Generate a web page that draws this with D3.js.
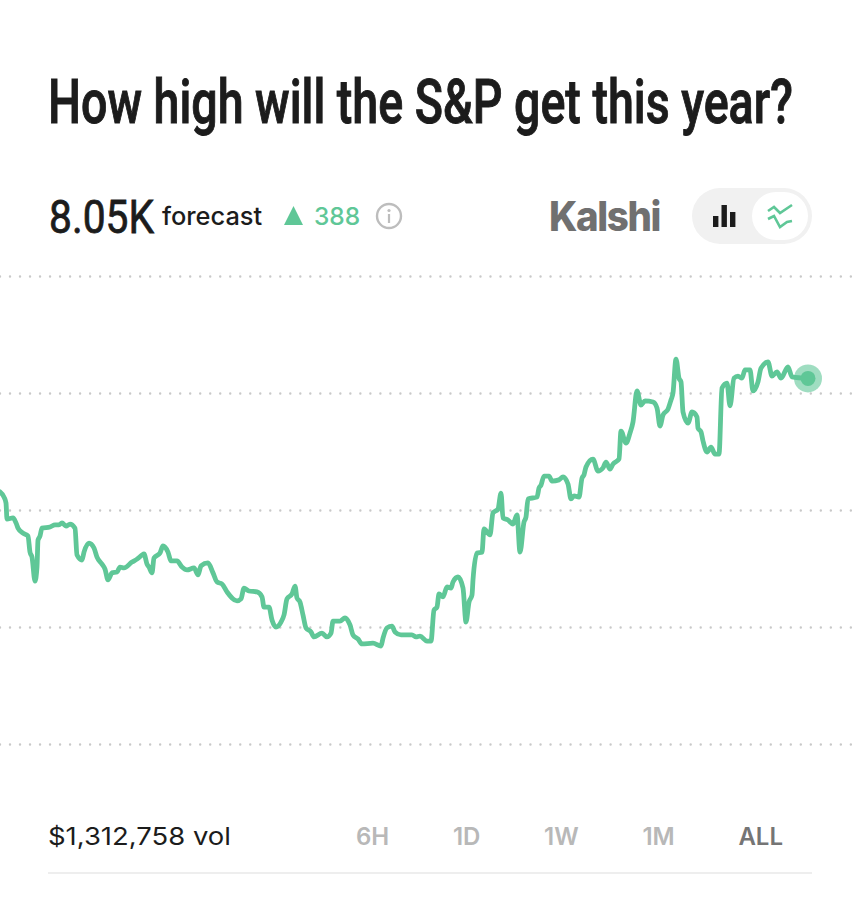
<!DOCTYPE html>
<html>
<head>
<meta charset="utf-8">
<title>How high will the S&amp;P get this year?</title>
<script src="https://cdn.jsdelivr.net/npm/d3@7/dist/d3.min.js"></script>
<style>
  html, body { margin: 0; padding: 0; background: #fff; }
  svg { display: block; }
  text { font-family: Inter, "Noto Sans", sans-serif; }
  .headline { font-family: Roboto, sans-serif; fill: #1c1c1c; }
</style>
</head>
<body>
<svg id="chart" width="860" height="900"></svg>
<script>
const titleText = "How high will the S&P get this year?";
const forecastValue = "8.05K";
const forecastLabel = "forecast";
const changeValue = "388";
const sourceName = "Kalshi";
const volumeText = "$1,312,758 vol";
const rangeLabels = ["6H", "1D", "1W", "1M", "ALL"];
const activeRange = "ALL";
const gridValues = [8400, 8000, 7600, 7200, 6800];

// Elapsed market time, in arbitrary sample units
const sampleTimes = [
  0,4,6,7,13,16,18,23,28,30,32,35,37,38,40,42,50,55,59,62,66,70,75,77,82,84,89,94,97,102,
  105,108,112,117,120,124,132,137,142,144,147,149,152,154,160,163,168,171,177,182,187,194,198,201,208,213,217,222,227,237,
  241,244,249,257,262,264,269,272,276,281,284,287,292,295,297,300,303,306,311,314,322,327,331,333,340,345,350,353,358,362,
  373,381,383,387,392,395,401,412,416,420,427,431,434,437,439,443,447,451,453,458,463,466,469,472,473,477,482,484,490,493,
  498,501,503,508,513,517,520,524,526,528,537,539,541,544,549,552,559,563,568,571,574,579,582,584,586,593,598,603,606,610,
  613,619,621,626,630,633,637,641,645,653,657,660,663,668,671,673,676,679,681,683,688,692,697,698,701,703,707,711,715,719,
  722,727,730,734,738,742,745,750,753,758,761,768,772,777,781,788,792,808
];

// Forecast level of the S&P high at each sample time
const forecastLevels = [
  7662,7644,7624,7569,7573,7556,7538,7521,7511,7456,7439,7357,7405,7497,7511,7538,7542,7549,7549,7556,7545,7552,7538,7446,7429,7456,7487,7470,7439,7415,
  7398,7361,7385,7388,7405,7402,7422,7432,7446,7450,7415,7405,7385,7436,7453,7477,7456,7426,7426,7405,7395,7402,7378,7409,7419,7385,7354,7347,7320,7289,
  7296,7333,7323,7320,7303,7268,7268,7224,7200,7217,7241,7296,7313,7340,7299,7285,7241,7197,7183,7166,7179,7166,7179,7220,7220,7231,7207,7173,7159,7142,
  7145,7135,7162,7197,7203,7183,7173,7173,7166,7169,7152,7152,7258,7268,7313,7303,7337,7333,7354,7371,7333,7217,7285,7309,7361,7453,7456,7535,7515,7590,
  7603,7658,7573,7566,7552,7583,7456,7559,7576,7638,7644,7675,7685,7716,7716,7699,7703,7713,7689,7638,7648,7644,7709,7720,7747,7774,7733,7744,7764,7740,
  7757,7774,7870,7829,7863,7901,8007,7959,7973,7969,7949,7887,7925,7945,7976,8000,8116,8051,8038,7935,7897,7935,7918,7880,7867,7836,7798,7815,7791,7791,
  8017,8034,7956,8051,8058,8051,8079,8079,8007,8038,8085,8106,8058,8072,8051,8089,8055,8050
];

const green = "#5fc797";
const svg = d3.select("#chart");

const x = d3.scaleLinear().domain([0, 808]).range([0, 808]);
const y = d3.scaleLinear().domain([6800, 8400]).range([744, 276]);

// Dotted horizontal guides
const grid = svg.append("g")
  .call(d3.axisRight(y).tickValues(gridValues).tickSize(852).tickFormat(""));
grid.select(".domain").remove();
grid.selectAll("line")
  .attr("stroke", "#c9c9c9")
  .attr("stroke-width", 2.4)
  .attr("stroke-linecap", "round")
  .attr("stroke-dasharray", "0.01 10");

// Forecast line
const points = sampleTimes.map((t, i) => [t, forecastLevels[i]]);
const line = d3.line().x(d => x(d[0])).y(d => y(d[1])).curve(d3.curveMonotoneX);
svg.append("path")
  .datum(points)
  .attr("d", line)
  .attr("fill", "none")
  .attr("stroke", green)
  .attr("stroke-width", 4.8)
  .attr("stroke-linejoin", "round")
  .attr("stroke-linecap", "round");

// Pulsing end marker
const last = points[points.length - 1];
svg.append("circle").attr("cx", x(last[0])).attr("cy", y(last[1])).attr("r", 14)
  .attr("fill", green).attr("fill-opacity", 0.6);
svg.append("circle").attr("cx", x(last[0])).attr("cy", y(last[1])).attr("r", 7.5)
  .attr("fill", green);

// Draws condensed display text by squeezing it horizontally to a set width
function condensed(str, left, baseline, size, weight, width, outline) {
  const t = svg.append("text").attr("class", "headline")
    .attr("font-size", size).style("font-weight", weight)
    .attr("stroke", "#1c1c1c").attr("stroke-width", outline)
    .text(str);
  const natural = t.node().getComputedTextLength();
  t.attr("transform", `translate(${left},${baseline}) scale(${width / natural},1)`);
  return t;
}

// Heading
condensed(titleText, 48, 123, 62, 500, 745, 1);

// Forecast summary row
condensed(forecastValue, 49, 233, 47, 400, 105, 0.8);
svg.append("text")
  .attr("x", 162).attr("y", 225)
  .attr("font-size", 25.4).attr("font-weight", 500).attr("fill", "#1c1c1c")
  .text(forecastLabel);
svg.append("path")
  .attr("d", d3.line()([[284, 225], [293.5, 206], [303, 225]]) + "Z")
  .attr("fill", green);
svg.append("text")
  .attr("x", 314).attr("y", 225)
  .attr("font-size", 24.5).attr("font-weight", 500).attr("fill", green)
  .text(changeValue);

// Info icon
const info = svg.append("g").attr("transform", "translate(389,216)");
info.append("circle").attr("r", 12).attr("fill", "none").attr("stroke", "#bdbdbd").attr("stroke-width", 2.4);
info.append("circle").attr("cy", -5.5).attr("r", 1.6).attr("fill", "#bdbdbd");
info.append("rect").attr("x", -1.1).attr("y", -2).attr("width", 2.2).attr("height", 9).attr("fill", "#bdbdbd");

// Source wordmark
const wordmark = svg.append("text")
  .attr("y", 231)
  .attr("font-size", 41).attr("font-weight", 800).attr("fill", "#707070")
  .attr("letter-spacing", -1.5)
  .text(sourceName);
wordmark.attr("transform", `translate(549,0) scale(${111 / wordmark.node().getComputedTextLength()},1)`);

// Chart type toggle
svg.append("rect").attr("x", 692).attr("y", 188).attr("width", 120).attr("height", 56).attr("rx", 28).attr("fill", "#f1f1f1");
svg.append("rect").attr("x", 752).attr("y", 192).attr("width", 56).attr("height", 48).attr("rx", 24).attr("fill", "#fff");
[[713, 216], [721.5, 205], [730, 212]].forEach(([bx, top]) => {
  svg.append("rect").attr("x", bx).attr("y", top)
    .attr("width", 5.4).attr("height", 227 - top).attr("fill", "#1c1c1c");
});
[[[768, 211], [774, 207], [780, 213], [792, 205]], [[768, 219], [774, 216], [780, 227], [787, 222], [792, 221]]].forEach(seg => {
  svg.append("path").attr("d", d3.line()(seg)).attr("fill", "none")
    .attr("stroke", green).attr("stroke-width", 2.6);
});

// Footer: volume and range selector
const volume = svg.append("text")
  .attr("y", 845)
  .attr("font-size", 24.5).attr("fill", "#1c1c1c")
  .text(volumeText);
volume.attr("transform", `translate(48,0) scale(${183 / volume.node().getComputedTextLength()},1)`);

// Range labels sit with equal gaps between them, ending at the right margin
const rangeNodes = svg.append("g").selectAll("text").data(rangeLabels).join("text")
  .attr("y", 845)
  .attr("font-size", 24).attr("font-weight", 600)
  .attr("fill", d => d === activeRange ? "#757575" : "#b8b8b8")
  .text(d => d);
const widths = rangeNodes.nodes().map(n => n.getComputedTextLength());
const gap = (783 - 356 - d3.sum(widths)) / (rangeLabels.length - 1);
rangeNodes.attr("x", (d, i) => 356 + d3.sum(widths.slice(0, i)) + gap * i);

svg.append("rect").attr("x", 48).attr("y", 872).attr("width", 764).attr("height", 2).attr("fill", "#eeeeee");
</script>
</body>
</html>
